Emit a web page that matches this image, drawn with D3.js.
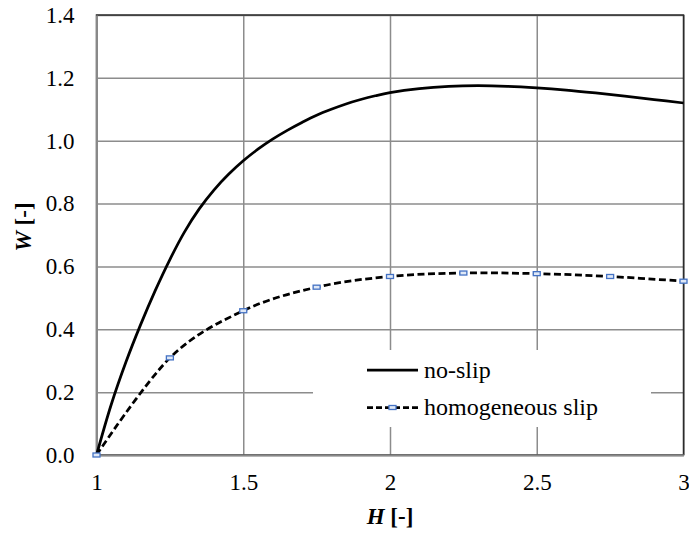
<!DOCTYPE html>
<html>
<head>
<meta charset="utf-8">
<script src="https://cdn.jsdelivr.net/npm/d3@7"></script>
<style>
  html, body { margin: 0; padding: 0; background: #fff; }
  svg { display: block; }
</style>
</head>
<body>
<svg id="chart" width="689" height="533"></svg>
<script>
// No-slip curve: dimensionless load W against film ratio H
const noSlipH = [1.0, 1.05, 1.1, 1.15, 1.2, 1.25, 1.3, 1.35, 1.4, 1.45, 1.5, 1.55, 1.6, 1.65, 1.7, 1.75, 1.8, 1.85, 1.9, 1.95, 2.0, 2.1, 2.2, 2.3, 2.4, 2.5, 2.6, 2.7, 2.8, 2.9, 3.0];
const noSlipW = [0.0, 0.16, 0.295, 0.414, 0.523, 0.622, 0.710, 0.783, 0.843, 0.893, 0.936, 0.973, 1.005, 1.033, 1.058, 1.081, 1.100, 1.117, 1.131, 1.143, 1.153, 1.166, 1.173, 1.175, 1.173, 1.168, 1.161, 1.152, 1.142, 1.131, 1.12];

// Homogeneous slip curve (with markers at each computed point)
const slipH = [1.0, 1.25, 1.5, 1.75, 2.0, 2.25, 2.5, 2.75, 3.0];
const slipW = [0.0, 0.309, 0.459, 0.534, 0.568, 0.579, 0.577, 0.568, 0.553];

// Axis ticks
const xTicks = [1, 1.5, 2, 2.5, 3];
const yTicks = [0, 0.2, 0.4, 0.6, 0.8, 1.0, 1.2, 1.4];

const seriesNames = ["no-slip", "homogeneous slip"];

const FONT = "Liberation Serif";
const FS = 23;      // tick labels and axis titles
const FS_LEG = 24;  // legend labels

const svg = d3.select("#chart");
const plotL = 96.5, plotR = 683.5, plotT = 15, plotB = 455;
const x = d3.scaleLinear().domain([1, 3]).range([plotL, plotR]);
const y = d3.scaleLinear().domain([0, 1.4]).range([plotB, plotT]);

// Grid lines
const gx = svg.append("g").attr("transform", `translate(0,${plotB})`)
  .call(d3.axisBottom(x).tickValues(xTicks).tickSize(-(plotB - plotT)).tickFormat(""));
gx.select(".domain").remove();
gx.selectAll("line").attr("stroke", "#8c8c8c").attr("stroke-width", 1.5);

const gy = svg.append("g").attr("transform", `translate(${plotL},0)`)
  .call(d3.axisLeft(y).tickValues(yTicks).tickSize(-(plotR - plotL)).tickFormat(""));
gy.select(".domain").remove();
gy.selectAll("line").attr("stroke", "#8c8c8c").attr("stroke-width", 1.5);

// Plot area outline
svg.append("rect")
  .attr("x", plotL).attr("y", plotT)
  .attr("width", plotR - plotL).attr("height", plotB - plotT)
  .attr("fill", "none").attr("stroke", "#2b2b2b").attr("stroke-width", 1.5);

// Legend backdrop hides the grid behind it
const legendBox = { x0: 313, y0: 350, x1: 651, y1: 427 };
svg.append("rect")
  .attr("x", legendBox.x0).attr("y", legendBox.y0)
  .attr("width", legendBox.x1 - legendBox.x0).attr("height", legendBox.y1 - legendBox.y0)
  .attr("fill", "#fff");

// Axes with tick labels
const ax = svg.append("g").attr("transform", `translate(0,${plotB})`)
  .call(d3.axisBottom(x).tickValues(xTicks).tickSize(0).tickPadding(19).tickFormat(d3.format("")))
  .attr("font-family", FONT).attr("font-size", FS);
ax.select(".domain").attr("stroke", "#898989").attr("stroke-width", 2);
ax.selectAll("text").attr("fill", "#000").style("font-family", FONT).style("font-size", FS + "px");

const ay = svg.append("g").attr("transform", `translate(${plotL},0)`)
  .call(d3.axisLeft(y).tickValues(yTicks).tickSize(0).tickPadding(22).tickFormat(d3.format(".1f")))
  .attr("font-family", FONT).attr("font-size", FS);
ay.select(".domain").attr("stroke", "#898989").attr("stroke-width", 2);
ay.selectAll("text").attr("fill", "#000").style("font-family", FONT).style("font-size", FS + "px");

// Axis titles
const xt = svg.append("text")
  .attr("x", (plotL + plotR) / 2).attr("y", 524)
  .attr("text-anchor", "middle").style("font-family", FONT).style("font-size", FS + "px");
xt.append("tspan").attr("font-weight", "bold").attr("font-style", "italic").text("H");
xt.append("tspan").attr("font-weight", "bold").text(" [-]");

const yt = svg.append("text")
  .attr("transform", `translate(31,227) rotate(-90)`)
  .attr("text-anchor", "middle").style("font-family", FONT).style("font-size", FS + "px");
yt.append("tspan").attr("font-weight", "bold").attr("font-style", "italic").text("W");
yt.append("tspan").attr("font-weight", "bold").text(" [-]");

// Curves
const noSlip = noSlipH.map((h, i) => [h, noSlipW[i]]);
const slip = slipH.map((h, i) => [h, slipW[i]]);

const lineSmooth = d3.line().x(d => x(d[0])).y(d => y(d[1])).curve(d3.curveCatmullRom.alpha(0.5));
const lineSlip = d3.line().x(d => x(d[0])).y(d => y(d[1])).curve(d3.curveCardinal.tension(0));

svg.append("path").datum(noSlip)
  .attr("d", lineSmooth)
  .attr("fill", "none").attr("stroke", "#000").attr("stroke-width", 2.75);

svg.append("path").datum(slip)
  .attr("d", lineSlip)
  .attr("fill", "none").attr("stroke", "#000").attr("stroke-width", 2.75)
  .attr("stroke-dasharray", "7,3.5");

const markW = 7, markH = 4;
svg.append("g").selectAll("rect").data(slip).join("rect")
  .attr("x", d => x(d[0]) - markW / 2).attr("y", d => y(d[1]) - markH / 2)
  .attr("width", markW).attr("height", markH)
  .attr("fill", "#dfe8f6").attr("stroke", "#4472c4").attr("stroke-width", 1.3);

// Legend entries
const lg = svg.append("g");
const lx0 = 367, lx1 = 418, ly = [370, 407.5];
lg.append("line").attr("x1", lx0).attr("x2", lx1).attr("y1", ly[0]).attr("y2", ly[0])
  .attr("stroke", "#000").attr("stroke-width", 2.75);
lg.append("line").attr("x1", lx0).attr("x2", lx1).attr("y1", ly[1]).attr("y2", ly[1])
  .attr("stroke", "#000").attr("stroke-width", 2.75).attr("stroke-dasharray", "6,3");
lg.append("rect")
  .attr("x", (lx0 + lx1) / 2 - markW / 2).attr("y", ly[1] - markH / 2)
  .attr("width", markW).attr("height", markH)
  .attr("fill", "#dfe8f6").attr("stroke", "#4472c4").attr("stroke-width", 1.3);
lg.selectAll("text.lab").data(seriesNames).join("text")
  .attr("class", "lab")
  .attr("x", 424).attr("y", (d, i) => ly[i]).attr("dy", "0.33em")
  .style("font-family", FONT).style("font-size", FS_LEG + "px").text(d => d);
</script>
</body>
</html>
